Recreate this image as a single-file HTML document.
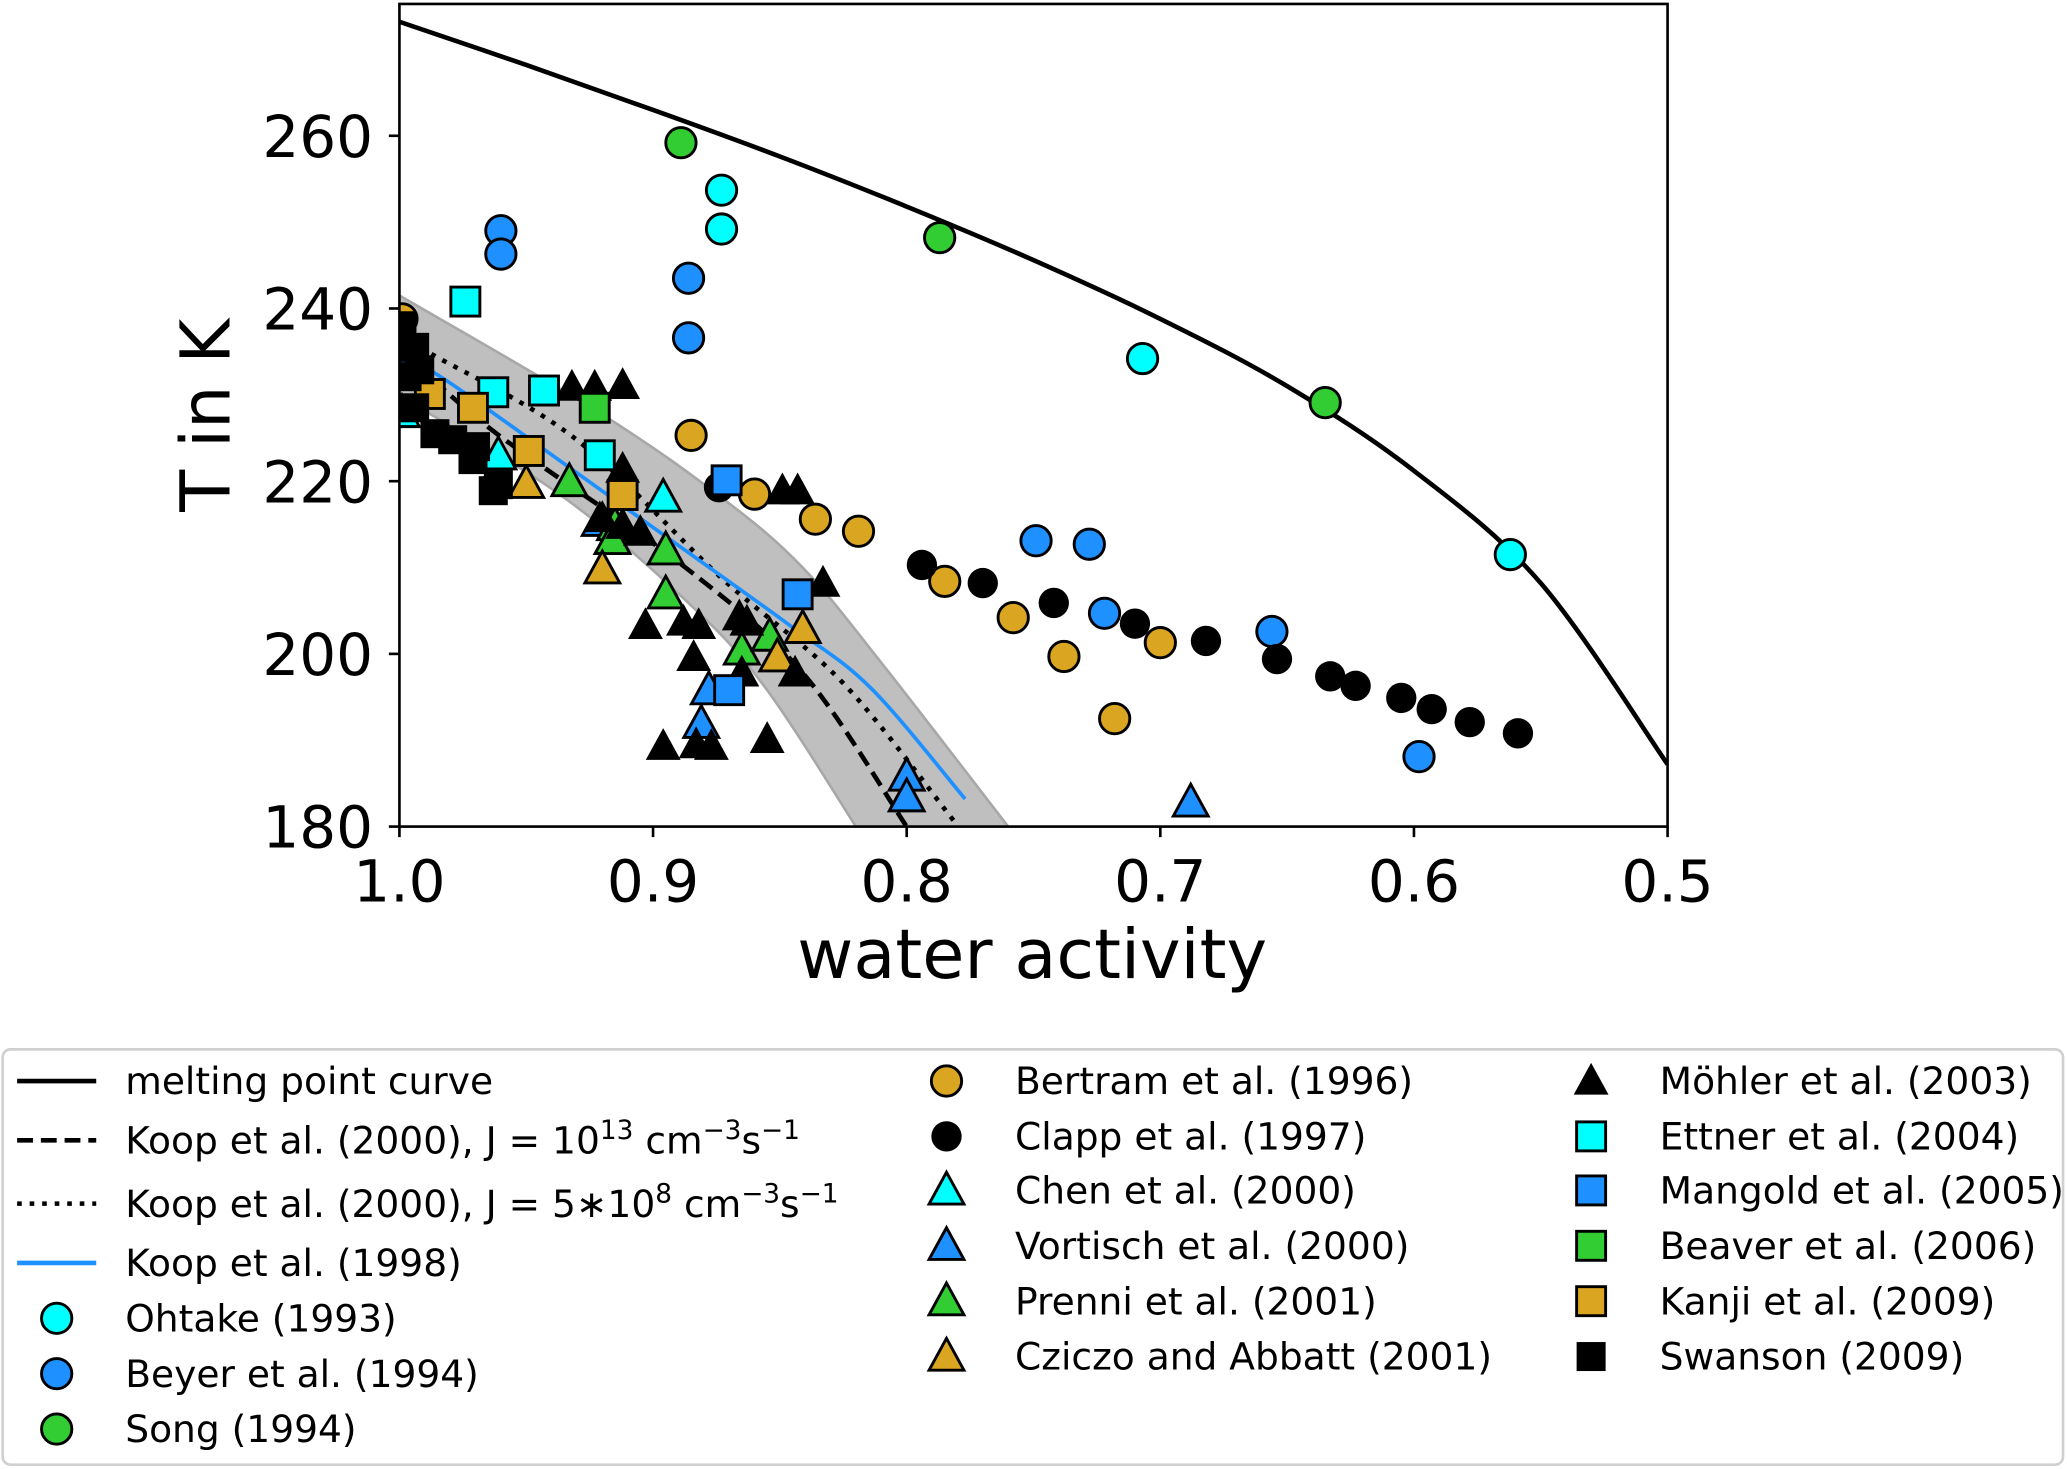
<!DOCTYPE html>
<html><head><meta charset="utf-8"><style>
html,body{margin:0;padding:0;background:#fff;}
svg{display:block;font-family:"DejaVu Sans","Liberation Sans",sans-serif;}
</style></head><body>
<svg id="chart" width="2067" height="1469" viewBox="0 0 1568 1114.3" preserveAspectRatio="none" xmlns="http://www.w3.org/2000/svg">
<g id="plot"></g>
<rect x="303" y="3" width="962" height="624" fill="none" stroke="#000" stroke-width="2"/>
<g id="ticks"></g>
<text x="783" y="742" font-size="52" text-anchor="middle">water activity</text>
<text transform="translate(174,315) rotate(-90)" font-size="52" text-anchor="middle">T in K</text>
<g id="legend">
<rect x="2" y="796" width="1563" height="315" rx="6" fill="#fff" stroke="#d0d0d0" stroke-width="2"/>
</g>
</svg>
<script>
// ---- data ----
const meltAw=[1.0,0.95,0.9,0.85,0.8,0.75,0.7,0.65,0.6,0.55,0.5];
const meltT=[273.2,268.2,263.0,257.6,251.8,245.6,238.8,231,221.2,208.2,187.2];
const koop13Aw=[1.0,0.963,0.889,0.841,0.80];
const koop13T=[235.5,225.8,210.4,197.8,180];
const koop8Aw=[1.0,0.989,0.931,0.873,0.825,0.781];
const koop8T=[237,235,225,208.8,196.6,180.5];
const koop98Aw=[1.0,0.986,0.953,0.905,0.847,0.814,0.777];
const koop98T=[234,232.5,225.8,215.7,203.5,196,183.2];
const bandUpAw=[1.0,0.921,0.873,0.841,0.809,0.76];
const bandUpT=[241.5,227.9,218.1,210,198.6,180];
const bandLoAw=[1.0,0.937,0.889,0.857,0.82];
const bandLoT=[229.9,218.5,206.7,196.6,180];

const ohtakeAw=[0.873,0.873,0.707,0.562];
const ohtakeT=[253.7,249.2,234.2,211.5];
const beyerAw=[0.960,0.960,0.886,0.886,0.749,0.728,0.722,0.656,0.598];
const beyerT=[249.0,246.3,243.5,236.6,213.1,212.7,204.7,202.6,188.1];
const songAw=[0.889,0.787,0.635];
const songT=[259.2,248.2,229.1];
const bertramAw=[0.999,0.885,0.860,0.836,0.819,0.785,0.758,0.738,0.718,0.700];
const bertramT=[238.8,225.3,218.5,215.6,214.2,208.4,204.2,199.7,192.5,201.3];
const clappAw=[0.874,0.794,0.770,0.742,0.710,0.682,0.654,0.633,0.623,0.605,0.593,0.578,0.559];
const clappT=[219.3,210.3,208.2,205.9,203.5,201.5,199.4,197.4,196.3,194.9,193.6,192.1,190.8];
const chenAw=[0.999,0.961,0.896];
const chenT=[227.9,223,218.1];
const vortischAw=[0.800,0.800,0.881,0.878,0.921,0.688];
const vortischT=[185.8,183.4,191.9,195.8,215.3,182.8];
const prenniAw=[0.933,0.915,0.916,0.895,0.895,0.865,0.854];
const prenniT=[219.9,214.8,213.2,212,206.9,200.4,202];
const cziczoAw=[0.950,0.920,0.841,0.851];
const cziczoT=[219.7,209.8,202.9,199.6];
const mohlerAw=[0.932,0.923,0.912,0.912,0.920,0.912,0.905,0.849,0.843,0.833,0.903,0.888,0.882,0.866,0.863,0.884,0.865,0.844,0.896,0.883,0.877,0.855];
const mohlerT=[230.9,230.9,231.1,221.4,215.7,214.9,214.1,218.9,218.9,208.2,203.3,203.7,203.3,204.3,203.7,199.6,197.8,197.8,189.3,189.5,189.3,190.1];
const ettnerAw=[0.974,0.963,0.943,0.921];
const ettnerT=[240.8,230.3,230.5,223];
const mangoldAw=[0.871,0.843,0.870];
const mangoldT=[220.1,206.9,195.8];
const beaverAw=[0.923];
const beaverT=[228.5];
const kanjiAw=[0.988,0.971,0.949,0.912];
const kanjiT=[230.1,228.5,223.5,218.4];
const swansonAw=[0.999,0.994,0.992,0.997,0.986,0.979,0.970,0.971,0.963,0.961,0.994];
const swansonT=[238,235.5,232.9,232.1,225.5,224.8,224,222.5,218.9,219.6,228.5];

const xTicks=[1.0,0.9,0.8,0.7,0.6,0.5];
const xTickLabels=["1.0","0.9","0.8","0.7","0.6","0.5"];
const yTicks=[180,200,220,240,260];
const yTickLabels=["180","200","220","240","260"];

// ---- axes ----
const X=a=>303+(1-a)/0.5*962;
const Y=t=>627-(t-180)*6.55;
const NS="http://www.w3.org/2000/svg";
function mk(tag,parent,attrs){const e=document.createElementNS(NS,tag);for(const k in attrs)e.setAttribute(k,attrs[k]);parent.appendChild(e);return e;}
const plot=document.getElementById('plot');
const clip=mk('clipPath',document.getElementById('chart'),{id:'clp'});
mk('rect',clip,{x:303,y:3,width:962,height:624});
plot.setAttribute('clip-path','url(#clp)');
function smooth(A,T,cont){
  const p=A.map((a,i)=>[X(a),Y(T[i])]);
  let d=(cont?'L':'M')+p[0][0].toFixed(1)+','+p[0][1].toFixed(1);
  for(let i=0;i<p.length-1;i++){
    const p0=p[Math.max(0,i-1)],p1=p[i],p2=p[i+1],p3=p[Math.min(p.length-1,i+2)];
    const c1=[p1[0]+(p2[0]-p0[0])/6,p1[1]+(p2[1]-p0[1])/6];
    const c2=[p2[0]-(p3[0]-p1[0])/6,p2[1]-(p3[1]-p1[1])/6];
    d+=` C${c1[0].toFixed(1)},${c1[1].toFixed(1)} ${c2[0].toFixed(1)},${c2[1].toFixed(1)} ${p2[0].toFixed(1)},${p2[1].toFixed(1)}`;
  }
  return d;
}

// band
let band=mk('path',plot,{d:smooth(bandUpAw,bandUpT)+' '+smooth(bandLoAw.slice().reverse(),bandLoT.slice().reverse(),true)+' Z',fill:'#bfbfbf',stroke:'#a8a8a8','stroke-width':2});


let l;
l=mk('path',plot,{d:smooth(meltAw,meltT),fill:'none',stroke:'#000','stroke-width':3.5});


l=mk('path',plot,{d:smooth(koop13Aw,koop13T),fill:'none',stroke:'#000','stroke-width':3.5,'stroke-dasharray':'12,6'});


l=mk('path',plot,{d:smooth(koop8Aw,koop8T),fill:'none',stroke:'#000','stroke-width':3.5,'stroke-dasharray':'3.5,6'});


l=mk('path',plot,{d:smooth(koop98Aw,koop98T),fill:'none',stroke:'#1e90ff','stroke-width':2.8});



function marker(parent,shape,cx,cy,fill,edge,s){
  let e;
  if(shape==='o') e=mk('circle',parent,{cx:cx,cy:cy,r:s,fill:fill});
  else if(shape==='s') e=mk('rect',parent,{x:cx-s,y:cy-s,width:2*s,height:2*s,fill:fill});
  else e=mk('polygon',parent,{points:`${cx},${cy-s*1.2} ${cx-s*1.15},${cy+s*0.9} ${cx+s*1.15},${cy+s*0.9}`,fill:fill});
  if(edge){e.setAttribute('stroke','#000');e.setAttribute('stroke-width',2.2);}
  return e;
}
const series=[
 ['ohtake',ohtakeAw,ohtakeT,'o','#00ffff',true],
 ['beyer',beyerAw,beyerT,'o','#1e90ff',true],
 ['song',songAw,songT,'o','#32cd32',true],
 ['bertram',bertramAw,bertramT,'o','#daa520',true],
 ['clapp',clappAw,clappT,'o','#000',false],
 ['chen',chenAw,chenT,'^','#00ffff',true],
 ['vortisch',vortischAw,vortischT,'^','#1e90ff',true],
 ['prenni',prenniAw,prenniT,'^','#32cd32',true],
 ['cziczo',cziczoAw,cziczoT,'^','#daa520',true],
 ['mohler',mohlerAw,mohlerT,'^','#000',false],
 ['ettner',ettnerAw,ettnerT,'s','#00ffff',true],
 ['mangold',mangoldAw,mangoldT,'s','#1e90ff',true],
 ['beaver',beaverAw,beaverT,'s','#32cd32',true],
 ['kanji',kanjiAw,kanjiT,'s','#daa520',true],
 ['swanson',swansonAw,swansonT,'s','#000',false]
];
series.forEach(s=>{
  const g=mk('g',plot,{});
  
  
  s[1].forEach((a,i)=>{
    const e=marker(g,s[3],X(a),Y(s[2][i]),s[4],s[5],s[3]==='s'?11:11.5);
    
    
  });
});

// ticks
const tk=document.getElementById('ticks');
xTicks.forEach((v,i)=>{
  const ln=mk('line',tk,{x1:X(v),x2:X(v),y1:627,y2:635,stroke:'#000','stroke-width':2});
  
  
  const t=mk('text',tk,{x:X(v),y:684,'font-size':44,'text-anchor':'middle'});
  t.textContent=xTickLabels[i];
  
  
});
yTicks.forEach((v,i)=>{
  const ln=mk('line',tk,{x1:295,x2:303,y1:Y(v),y2:Y(v),stroke:'#000','stroke-width':2});
  
  
  const t=mk('text',tk,{x:283,y:Y(v)+16,'font-size':44,'text-anchor':'end'});
  t.textContent=yTickLabels[i];
  
  
});

// legend
const lg=document.getElementById('legend');
function ltext(x,y,html,name){
  const t=mk('text',lg,{x:x,y:y+10,'font-size':28.5});
  t.innerHTML=html;
  
  
}
let e;
e=mk('line',lg,{x1:13,x2:73,y1:820,y2:820,stroke:'#000','stroke-width':3.5});


ltext(95,820,'melting point curve','legend-melting-label');
e=mk('line',lg,{x1:13,x2:73,y1:865,y2:865,stroke:'#000','stroke-width':3.5,'stroke-dasharray':'12,6'});


ltext(95,865,'Koop et al. (2000), J = 10<tspan dy="-11" font-size="20">13</tspan><tspan dy="11"> cm</tspan><tspan dy="-11" font-size="20">−3</tspan><tspan dy="11">s</tspan><tspan dy="-11" font-size="20">−1</tspan>','legend-koop13-label');
e=mk('line',lg,{x1:13,x2:73,y1:913,y2:913,stroke:'#000','stroke-width':3.5,'stroke-dasharray':'3.5,6'});


ltext(95,913,'Koop et al. (2000), J = 5∗10<tspan dy="-11" font-size="20">8</tspan><tspan dy="11"> cm</tspan><tspan dy="-11" font-size="20">−3</tspan><tspan dy="11">s</tspan><tspan dy="-11" font-size="20">−1</tspan>','legend-koop8-label');
e=mk('line',lg,{x1:13,x2:73,y1:958,y2:958,stroke:'#1e90ff','stroke-width':3.5});


ltext(95,958,'Koop et al. (1998)','legend-koop98-label');
const legNames=["Ohtake (1993)","Beyer et al. (1994)","Song (1994)","Bertram et al. (1996)","Clapp et al. (1997)","Chen et al. (2000)","Vortisch et al. (2000)","Prenni et al. (2001)","Cziczo and Abbatt (2001)","Möhler et al. (2003)","Ettner et al. (2004)","Mangold et al. (2005)","Beaver et al. (2006)","Kanji et al. (2009)","Swanson (2009)"];
const rowY2=[820,862,903,945,987,1029];
legNames.forEach((n,i)=>{
  let mx,my,tx;
  if(i<3){mx=43;my=1000+i*42;tx=95;}
  else if(i<9){mx=718;my=rowY2[i-3];tx=770;}
  else{mx=1207;my=rowY2[i-9];tx=1259;}
  const s=series[i];
  const m=marker(lg,s[3],mx,my,s[4],s[5],s[3]==='s'?11:11.5);
  
  
  ltext(tx,my,n,'legend-label-'+s[0]);
});
</script>
</body></html>
